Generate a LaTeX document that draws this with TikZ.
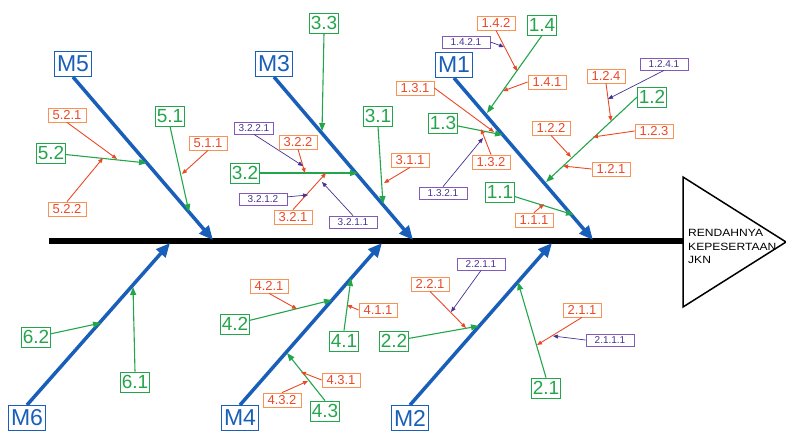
\documentclass[tikz,border=0pt]{standalone}
\usepackage{fontspec}
\setmainfont{Liberation Sans}
\newfontfamily\headfont[FakeStretch=1.15]{Liberation Sans}
\usepackage{xcolor}
\usepackage{tikz}
\usetikzlibrary{arrows.meta}
\definecolor{fishblue}{RGB}{25, 95, 185}
\definecolor{causegreen}{RGB}{35, 165, 75}
\definecolor{suborange}{RGB}{250, 145, 85}
\definecolor{subred}{RGB}{235, 72, 38}
\definecolor{rootpurple}{RGB}{130, 90, 185}
\definecolor{rootnavy}{RGB}{70, 50, 145}
\tikzstyle{mainbox} = [rectangle, draw=fishblue, text=fishblue, line width=1pt, minimum width=37pt, minimum height=25pt, inner sep=1pt, font=\fontsize{23}{23}\selectfont]
\tikzstyle{causebox} = [rectangle, draw=causegreen, text=causegreen, line width=0.8pt, minimum width=29pt, minimum height=20pt, inner sep=1pt, font=\fontsize{19}{19}\selectfont]
\tikzstyle{subbox} = [rectangle, draw=suborange, text=subred, line width=0.8pt, minimum width=38pt, minimum height=14pt, inner sep=1pt, font=\fontsize{13}{13}\selectfont]
\tikzstyle{rootbox} = [rectangle, draw=rootpurple, text=rootnavy, line width=0.8pt, minimum width=48pt, minimum height=12pt, inner sep=1pt, font=\fontsize{10}{10}\selectfont]
\tikzstyle{bone} = [-{Triangle[length=14pt, width=12pt]}, draw=fishblue, line width=3.5pt]
\tikzstyle{causearrow} = [-{Triangle[length=8pt, width=6pt]}, draw=causegreen, line width=1.1pt]
\tikzstyle{subarrow} = [-{Triangle[length=5pt, width=4pt]}, draw=subred, line width=0.9pt]
\tikzstyle{rootarrow} = [-{Triangle[length=5pt, width=4pt]}, draw=rootnavy, line width=0.7pt]
\begin{document}
\begin{tikzpicture}[x=1pt, y=-1pt]
    \useasboundingbox (0,0) rectangle (786,431);

    % Spine and head
    \coordinate (tail) at (49,241);
    \coordinate (head) at (683,241);
    \draw[line width=6pt] (tail) -- (head);
    \draw[line width=1.5pt, line join=miter] (683,177) -- (786,242) -- (683,307) -- cycle;
    \node[anchor=north west, inner sep=0pt, align=left, font=\headfont\fontsize{10.5}{13.5}\selectfont] (effect) at (688,229.5) {RENDAHNYA\\KEPESERTAAN\\JKN};

    % Main bones
    \node[mainbox] (m5) at (73,64) {M5};
    \node[mainbox] (m3) at (274,64) {M3};
    \node[mainbox] (m1) at (454,65) {M1};
    \node[mainbox] (m6) at (27,418) {M6};
    \node[mainbox] (m4) at (240,418) {M4};
    \node[mainbox] (m2) at (410,418) {M2};
    \coordinate (t5) at (213,240);
    \coordinate (t3) at (413,240);
    \coordinate (t1) at (593,240);
    \coordinate (t6) at (170,243);
    \coordinate (t4) at (382,243);
    \coordinate (t2) at (552,243);
    \draw[bone] (m5.south) -- (t5);
    \draw[bone] (m3.south) -- (t3);
    \draw[bone] (m1.south) -- (t1);
    \draw[bone] (m6.north) -- (t6);
    \draw[bone] (m4.north) -- (t4);
    \draw[bone] (m2.north) -- (t2);

    % M5
    \node[causebox] (c52) at (51,153) {5.2};
    \node[causebox] (c51) at (170,116) {5.1};
    \node[subbox] (s521) at (67,115) {5.2.1};
    \node[subbox] (s522) at (67,209) {5.2.2};
    \node[subbox] (s511) at (208,143) {5.1.1};
    \coordinate (p52) at (147,163);
    \coordinate (p51) at (189,212);
    \coordinate (p521) at (117,159);
    \coordinate (p522) at (103,158);
    \coordinate (p511) at (182,174);
    \draw[causearrow] (c52) -- (p52);
    \draw[causearrow] (c51.south) -- (p51);
    \draw[subarrow] (s521.south) -- (p521);
    \draw[subarrow] (s522.north) -- (p522);
    \draw[subarrow] (s511.south) -- (p511);

    % M3
    \node[causebox] (c33) at (324,23) {3.3};
    \node[causebox] (c32) at (245,173) {3.2};
    \node[causebox] (c31) at (378,116) {3.1};
    \node[subbox] (s322) at (298,142) {3.2.2};
    \node[subbox] (s321) at (293,217) {3.2.1};
    \node[subbox] (s311) at (410,160) {3.1.1};
    \node[rootbox, minimum width=39pt] (r3221) at (254,128) {3.2.2.1};
    \node[rootbox] (r3212) at (263,199) {3.2.1.2};
    \node[rootbox] (r3211) at (353,222) {3.2.1.1};
    \coordinate (p33) at (322,131);
    \coordinate (p32) at (358,173);
    \coordinate (p31) at (383,204);
    \coordinate (p322) at (305,173);
    \coordinate (p321) at (326,173);
    \coordinate (p311) at (384,183);
    \coordinate (p3221) at (303,166);
    \coordinate (p3212) at (308,195);
    \coordinate (p3211) at (322,182);
    \draw[causearrow] (c33.south) -- (p33);
    \draw[causearrow] (c32) -- (p32);
    \draw[causearrow] (c31.south) -- (p31);
    \draw[subarrow] (s322.south) -- (p322);
    \draw[subarrow] (s321.north) -- (p321);
    \draw[subarrow] (s311.south) -- (p311);
    \draw[rootarrow] (r3221.south) -- (p3221);
    \draw[rootarrow] (r3212) -- (p3212);
    \draw[rootarrow] (r3211.north) -- (p3211);

    % M1
    \node[causebox] (c14) at (542,25) {1.4};
    \node[causebox] (c13) at (443,123) {1.3};
    \node[causebox] (c12) at (652,97) {1.2};
    \node[causebox] (c11) at (500,192) {1.1};
    \node[subbox] (s142) at (496,23) {1.4.2};
    \node[subbox] (s141) at (547,82) {1.4.1};
    \node[subbox] (s131) at (415,88) {1.3.1};
    \node[subbox] (s132) at (491,162) {1.3.2};
    \node[subbox] (s124) at (606,76) {1.2.4};
    \node[subbox] (s123) at (654,131) {1.2.3};
    \node[subbox] (s122) at (551,128) {1.2.2};
    \node[subbox] (s121) at (611,169) {1.2.1};
    \node[subbox] (s111) at (534,220) {1.1.1};
    \node[rootbox] (r1421) at (466,42) {1.4.2.1};
    \node[rootbox] (r1321) at (443,193) {1.3.2.1};
    \node[rootbox] (r1241) at (664,64) {1.2.4.1};
    \coordinate (p14) at (487,113);
    \coordinate (p13) at (503,135);
    \coordinate (p12) at (546,182);
    \coordinate (p11) at (574,215);
    \coordinate (p142) at (517,71);
    \coordinate (p141) at (503,91);
    \coordinate (p131) at (494,132);
    \coordinate (p132) at (481,129);
    \coordinate (p124) at (611,121);
    \coordinate (p123) at (593,137);
    \coordinate (p122) at (571,157);
    \coordinate (p121) at (563,166);
    \coordinate (p111) at (544,204);
    \coordinate (p1421) at (504,47);
    \coordinate (p1321) at (483,138);
    \coordinate (p1241) at (608,99);
    \draw[causearrow] (c14.south) -- (p14);
    \draw[causearrow] (c13) -- (p13);
    \draw[causearrow] (c12.west) -- (p12);
    \draw[causearrow] (c11) -- (p11);
    \draw[subarrow] (s142.south) -- (p142);
    \draw[subarrow] (s141.west) -- (p141);
    \draw[subarrow] (s131.east) -- (p131);
    \draw[subarrow] (s132.north) -- (p132);
    \draw[subarrow] (s124.south) -- (p124);
    \draw[subarrow] (s123.west) -- (p123);
    \draw[subarrow] (s122.south) -- (p122);
    \draw[subarrow] (s121.west) -- (p121);
    \draw[subarrow] (s111.north) -- (p111);
    \draw[rootarrow] (r1421.east) -- (p1421);
    \draw[rootarrow] (r1321.north) -- (p1321);
    \draw[rootarrow] (r1241.south) -- (p1241);

    % M6
    \node[causebox] (c62) at (36,337) {6.2};
    \node[causebox] (c61) at (135,382) {6.1};
    \coordinate (p62) at (101,323);
    \coordinate (p61) at (133,287);
    \draw[causearrow] (c62) -- (p62);
    \draw[causearrow] (c61.north) -- (p61);

    % M4
    \node[causebox] (c42) at (235,324) {4.2};
    \node[causebox] (c41) at (344,341) {4.1};
    \node[causebox] (c43) at (325,411) {4.3};
    \node[subbox] (s421) at (269,286) {4.2.1};
    \node[subbox] (s411) at (378,310) {4.1.1};
    \node[subbox] (s431) at (341,380) {4.3.1};
    \node[subbox] (s432) at (282,400) {4.3.2};
    \coordinate (p42) at (332,300);
    \coordinate (p41) at (351,278);
    \coordinate (p43) at (287,353);
    \coordinate (p421) at (297,309);
    \coordinate (p411) at (347,305);
    \coordinate (p431) at (301,372);
    \coordinate (p432) at (308,381);
    \draw[causearrow] (c42) -- (p42);
    \draw[causearrow] (c41.north) -- (p41);
    \draw[causearrow] (c43.north) -- (p43);
    \draw[subarrow] (s421.south) -- (p421);
    \draw[subarrow] (s411.west) -- (p411);
    \draw[subarrow] (s431.west) -- (p431);
    \draw[subarrow] (s432.north) -- (p432);

    % M2
    \node[causebox] (c22) at (394,341) {2.2};
    \node[causebox] (c21) at (546,388) {2.1};
    \node[subbox] (s221) at (430,284) {2.2.1};
    \node[subbox] (s211) at (582,310) {2.1.1};
    \node[rootbox] (r2211) at (481,264) {2.2.1.1};
    \node[rootbox] (r2111) at (610,340) {2.1.1.1};
    \coordinate (p22) at (479,326);
    \coordinate (p21) at (518,282);
    \coordinate (p221) at (466,328);
    \coordinate (p211) at (537,345);
    \coordinate (p2211) at (451,312);
    \coordinate (p2111) at (553,336);
    \draw[causearrow] (c22) -- (p22);
    \draw[causearrow] (c21.north) -- (p21);
    \draw[subarrow] (s221.south) -- (p221);
    \draw[subarrow] (s211.south) -- (p211);
    \draw[rootarrow] (r2211.south) -- (p2211);
    \draw[rootarrow] (r2111.west) -- (p2111);
\end{tikzpicture}
\end{document}
